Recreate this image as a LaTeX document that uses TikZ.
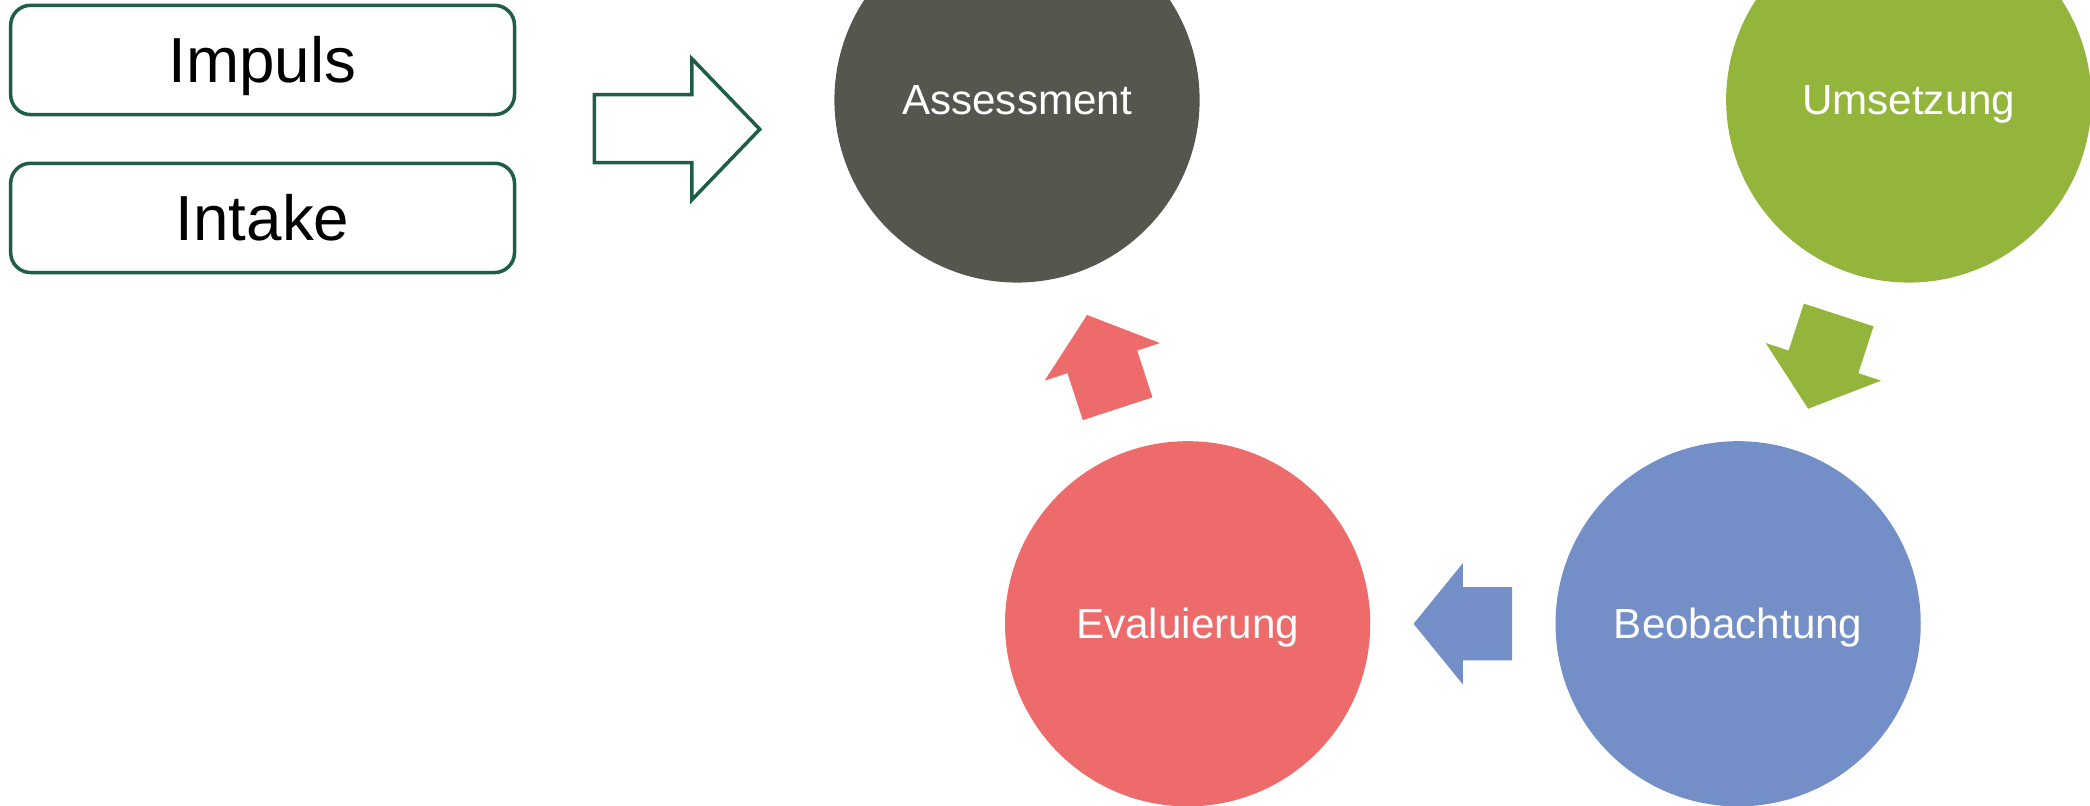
\documentclass[tikz,border=0pt]{standalone}
\usepackage{fontspec}
\setmainfont{Liberation Sans}
\definecolor{boxgreen}{HTML}{1E5E46}
\definecolor{assessgray}{HTML}{55574F}
\definecolor{umsetgreen}{HTML}{93B53C}
\definecolor{beobblue}{HTML}{748FC8}
\definecolor{evalred}{HTML}{ED6B6A}

\tikzset{
  stepcircle/.style={circle, minimum size=2.74cm, inner sep=0pt, text=white, text height=6.4pt, text depth=0pt, font=\fontsize{9}{11}\selectfont},
  inputbox/.style={draw=boxgreen, line width=0.75pt, rounded corners=0.15cm, minimum width=3.78cm, minimum height=0.82cm, text height=9.7pt, text depth=0pt, font=\fontsize{13.6}{16}\selectfont},
  blockarrow/.pic={\fill (-0.37,-0.275) -- (0,-0.275) -- (0,-0.455) -- (0.37,0) -- (0,0.455) -- (0,0.275) -- (-0.37,0.275) -- cycle;}
}

\begin{document}
\begin{tikzpicture}
	\useasboundingbox (0,0) rectangle (15.68,6.04);
	\clip (0,0) rectangle (15.68,6.04);
	% Eingang
	\node[inputbox] (impuls) at (1.97,5.59) {Impuls};
	\node[inputbox] (intake) at (1.97,4.405) {Intake};
	\draw[boxgreen, line width=0.75pt] (4.46,5.33) -- (5.19,5.33) -- (5.19,5.60) -- (5.70,5.07) -- (5.19,4.54) -- (5.19,4.82) -- (4.46,4.82) -- cycle;
	% Kreislauf
	\node[stepcircle, fill=assessgray] (assess) at (7.63,5.29) {Assessment};
	\node[stepcircle, fill=umsetgreen] (umset) at (14.32,5.29) {Umsetzung};
	\node[stepcircle, fill=beobblue] (beob) at (13.04,1.36) {Beobachtung};
	\node[stepcircle, fill=evalred] (eval) at (8.91,1.36) {Evaluierung};
	\path (umset) -- (beob) pic[pos=.5, sloped, allow upside down, fill=umsetgreen] {blockarrow};
	\path (beob) -- (eval) pic[pos=.5, sloped, allow upside down, fill=beobblue] {blockarrow};
	\path (eval) -- (assess) pic[pos=.5, sloped, allow upside down, fill=evalred] {blockarrow};
\end{tikzpicture}
\end{document}
